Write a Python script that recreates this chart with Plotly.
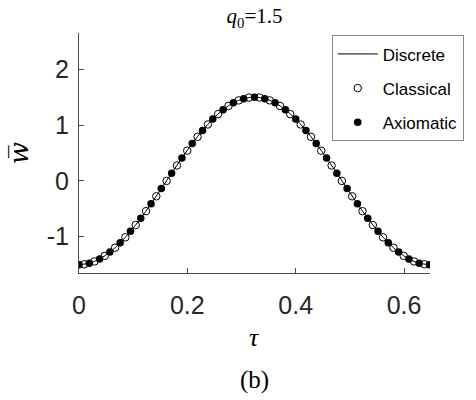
import plotly.graph_objects as go

# Axiomatic (filled) and discrete solution sample times / values
tau_axi = [0.000, 0.019, 0.038, 0.057, 0.076, 0.095, 0.114, 0.133, 0.152, 0.171,
           0.190, 0.209, 0.228, 0.247, 0.266, 0.285, 0.304, 0.324, 0.343, 0.362,
           0.381, 0.400, 0.419, 0.438, 0.457, 0.476, 0.495, 0.514, 0.533, 0.552,
           0.571, 0.590, 0.609, 0.628, 0.647]
w_axi = [-1.500, -1.474, -1.399, -1.275, -1.109, -0.904, -0.669, -0.410, -0.138, 0.138,
         0.410, 0.669, 0.904, 1.109, 1.275, 1.399, 1.474, 1.500, 1.474, 1.399,
         1.275, 1.109, 0.904, 0.669, 0.410, 0.138, -0.138, -0.410, -0.669, -0.904,
         -1.109, -1.275, -1.399, -1.474, -1.500]

# Classical (open) sample times / values
tau_cls = [0.0095, 0.0285, 0.0476, 0.0666, 0.0856, 0.1047, 0.1237, 0.1427, 0.1618, 0.1808,
           0.1998, 0.2189, 0.2379, 0.2569, 0.2760, 0.2950, 0.3140, 0.3330, 0.3521, 0.3711,
           0.3901, 0.4092, 0.4282, 0.4472, 0.4663, 0.4853, 0.5043, 0.5234, 0.5424, 0.5614,
           0.5805, 0.5995, 0.6185, 0.6376]
w_cls = [-1.494, -1.443, -1.343, -1.197, -1.011, -0.790, -0.542, -0.276, 0.000, 0.276,
         0.542, 0.790, 1.011, 1.197, 1.343, 1.443, 1.494, 1.494, 1.443, 1.343,
         1.197, 1.011, 0.790, 0.542, 0.276, 0.000, -0.276, -0.542, -0.790, -1.011,
         -1.197, -1.343, -1.443, -1.494]

x_ticks = [0, 0.2, 0.4, 0.6]
x_tick_text = ["0", "0.2", "0.4", "0.6"]
y_ticks = [-1, 0, 1, 2]
y_tick_text = ["-1", "0", "1", "2"]

AX = "#4a4a4a"
SANS = "Liberation Sans, Arial, sans-serif"
SERIF = "DejaVu Serif, Liberation Serif, serif"
TSERIF = "Liberation Serif, Times New Roman, serif"

W, H = 476, 400

fig = go.Figure()
fig.add_trace(go.Scatter(x=tau_axi, y=w_axi, mode="lines", name="Discrete",
                         line=dict(color="black", width=1, shape="spline"),
                         legendgroup="a"))
fig.add_trace(go.Scatter(x=tau_cls, y=w_cls, mode="markers", name="Classical",
                         marker=dict(symbol="circle-open", size=7.5, color="black",
                                     line=dict(width=1, color="black")),
                         legendgroup="b"))
fig.add_trace(go.Scatter(x=tau_axi, y=w_axi, mode="markers", name="Axiomatic",
                         marker=dict(symbol="circle", size=7.5, color="black"),
                         legendgroup="c"))

fig.update_layout(
    width=W, height=H,
    margin=dict(l=79, r=43, t=33, b=127),
    paper_bgcolor="white", plot_bgcolor="white",
    showlegend=True,
    legend=dict(x=0.72, y=0.99, xanchor="left", yanchor="top",
                bordercolor="#888888", borderwidth=1, bgcolor="white",
                font=dict(family=SANS, size=17, color="black"),
                tracegroupgap=9, traceorder="grouped", itemwidth=40),
    xaxis=dict(range=[0, 0.648], tickvals=x_ticks, ticktext=x_tick_text,
               showgrid=False, zeroline=False, showline=True, linecolor=AX,
               linewidth=1, ticks="inside", ticklen=5, tickcolor=AX,
               tickfont=dict(family=SANS, size=25, color="#262626"),
               ticklabelstandoff=10, mirror=False),
    yaxis=dict(range=[-1.65, 2.65], tickvals=y_ticks, ticktext=y_tick_text,
               showgrid=False, zeroline=False, showline=True, linecolor=AX,
               linewidth=1, ticks="inside", ticklen=5, tickcolor=AX,
               tickfont=dict(family=SANS, size=25, color="#262626"),
               ticklabelstandoff=4, mirror=False),
    title=dict(text="<i>q</i><sub>0</sub>=1.5", x=0.5, xref="paper",
               y=1 - 16 / H, yanchor="middle", xanchor="center",
               font=dict(family=TSERIF, size=21, color="black")),
    annotations=[
        dict(text="<i>τ</i>", xref="paper", yref="paper", x=0.5, y=-0.267,
             xanchor="center", yanchor="middle", showarrow=False,
             font=dict(family=TSERIF, size=26, color="black")),
        dict(text="(b)", xref="paper", yref="paper", x=0.5, y=-0.446,
             xanchor="center", yanchor="middle", showarrow=False,
             font=dict(family=TSERIF, size=25, color="black")),
        dict(text="<i>w\u0305</i>", xref="paper", yref="paper", x=-0.17, y=0.5,
             xanchor="center", yanchor="middle", showarrow=False, textangle=-90,
             font=dict(family=SERIF, size=26, color="black")),
    ],
)

fig.write_html("out.html",
               config={"displayModeBar": False},
               post_script="document.body.style.margin='0';document.body.style.overflow='hidden';")
